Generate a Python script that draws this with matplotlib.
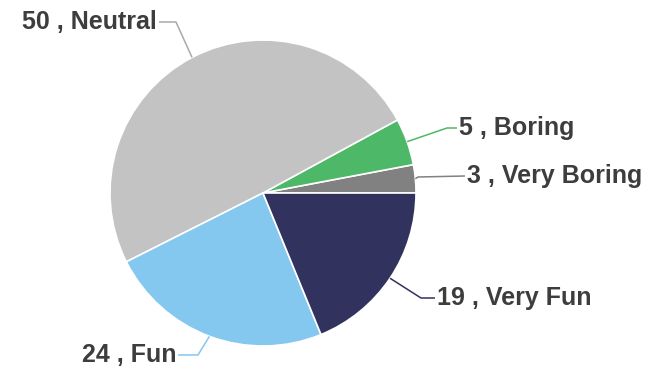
import numpy as np
import matplotlib.pyplot as plt

# survey answers, counter-clockwise from 3 o'clock
labels = ['Very Boring', 'Boring', 'Neutral', 'Fun', 'Very Fun']
counts = [3, 5, 50, 24, 19]
colors = ['#818181', '#4db868', '#c3c3c3', '#84c8f0', '#32325f']

# text edge (x, y, alignment) and where the leader line bends, in pixels
label_pos = {
    'Very Boring': (467, 176, 'left'),
    'Boring': (459, 128, 'left'),
    'Neutral': (157, 22, 'right'),
    'Fun': (176, 355, 'right'),
    'Very Fun': (437, 298, 'left'),
}
elbow = {
    'Very Boring': (418, 177),
    'Boring': (447, 128),
    'Neutral': (176, 22),
    'Fun': (198, 355),
    'Very Fun': (421, 298),
}

W, H = 660, 383
fig = plt.figure(figsize=(6.6, 3.83), dpi=100)
ax = fig.add_axes([0, 0, 1, 1])

cx, cy, r = 263, H - 193, 153
wedges, _ = ax.pie(counts, colors=colors, startangle=0, counterclock=True,
                   center=(cx, cy), radius=r, frame=True,
                   wedgeprops=dict(edgecolor='white', linewidth=1.2))
ax.set_xlim(0, W)
ax.set_ylim(0, H)
ax.set_aspect('equal')
ax.axis('off')

for w, lab, n, col in zip(wedges, labels, counts, colors):
    ang = np.deg2rad((w.theta1 + w.theta2) / 2)
    px, py = cx + r * np.cos(ang), cy + r * np.sin(ang)
    ex, ey = elbow[lab]
    tx, ty, ha = label_pos[lab]
    line_col = '#a9a9a9' if lab == 'Neutral' else col
    lx = tx - 2 if ha == 'left' else tx + 2
    ax.plot([px, ex, lx], [py, H - ey, H - ty], color=line_col, lw=1.1,
            solid_capstyle='butt')
    ax.text(tx, H - ty, f'{n} , {lab}', ha=ha, va='center',
            fontsize=18, fontweight='bold', color='#3d3d3d',
            family='Liberation Sans')

fig.savefig('out.png', dpi=100)
